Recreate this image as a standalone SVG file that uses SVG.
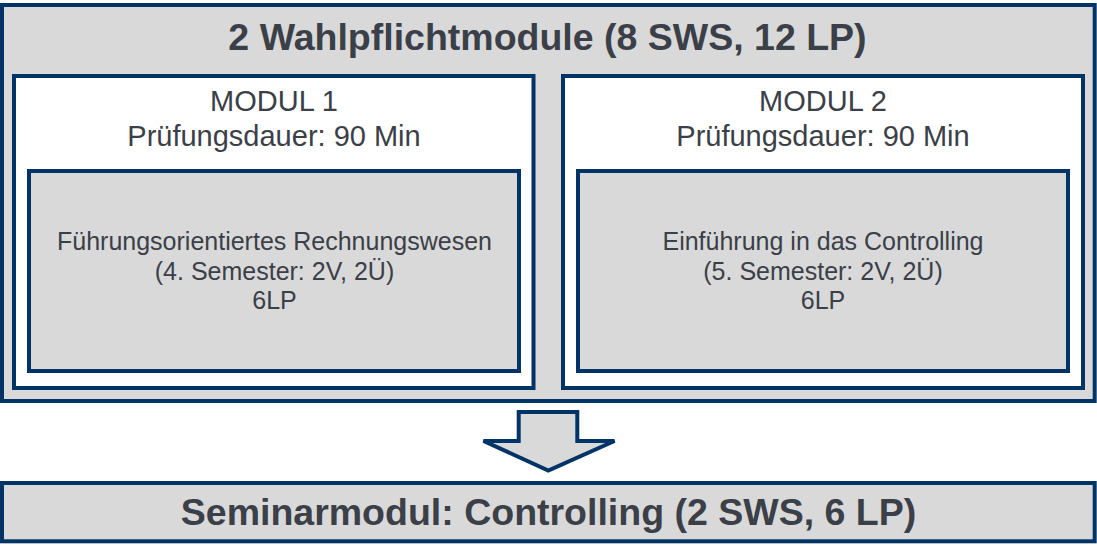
<svg xmlns="http://www.w3.org/2000/svg" width="1097" height="557" viewBox="0 0 1097 557">
<style>
.box{stroke:#003366;stroke-width:4}
.gray{fill:#d9d9d9}
.white{fill:#ffffff}
text{font-family:"Liberation Sans",Arial,sans-serif;fill:#3b4048;text-anchor:middle}
.big{font-size:37.5px;font-weight:bold}
.mod{font-size:29px}
.inner{font-size:25px}
</style>
<rect width="1097" height="557" fill="#ffffff"/>
<g id="wahlpflicht">
<rect class="box gray" x="2" y="5" width="1092.7" height="396"/>
<text class="big" x="547.5" y="49.5">2 Wahlpflichtmodule (8 SWS, 12 LP)</text>
</g>
<g id="modul1">
<rect class="box white" x="14" y="76" width="519.5" height="312"/>
<text class="mod" x="274" y="111">MODUL 1</text>
<text class="mod" x="274" y="146">Prüfungsdauer: 90 Min</text>
</g>
<g id="kurs1">
<rect class="box gray" x="29" y="171" width="490" height="200"/>
<text class="inner" x="274.5" y="249.5">Führungsorientiertes Rechnungswesen</text>
<text class="inner" x="274.5" y="279.5">(4. Semester: 2V, 2Ü)</text>
<text class="inner" x="274.5" y="308.5">6LP</text>
</g>
<g id="modul2">
<rect class="box white" x="563" y="76" width="520" height="312"/>
<text class="mod" x="823" y="111">MODUL 2</text>
<text class="mod" x="823" y="146">Prüfungsdauer: 90 Min</text>
</g>
<g id="kurs2">
<rect class="box gray" x="578" y="171" width="490" height="200"/>
<text class="inner" x="823" y="249.5">Einführung in das Controlling</text>
<text class="inner" x="823" y="279.5">(5. Semester: 2V, 2Ü)</text>
<text class="inner" x="823" y="308.5">6LP</text>
</g>
<g id="connectors">
<polygon class="box gray" points="518.7,412 577.3,412 577.3,441 614.5,441 548.3,470.5 483.5,441 518.7,441"/>
</g>
<g id="seminar">
<rect class="box gray" x="2" y="483" width="1092.7" height="58.3"/>
<text class="big" x="548.5" y="525">Seminarmodul: Controlling (2 SWS, 6 LP)</text>
</g>
</svg>
